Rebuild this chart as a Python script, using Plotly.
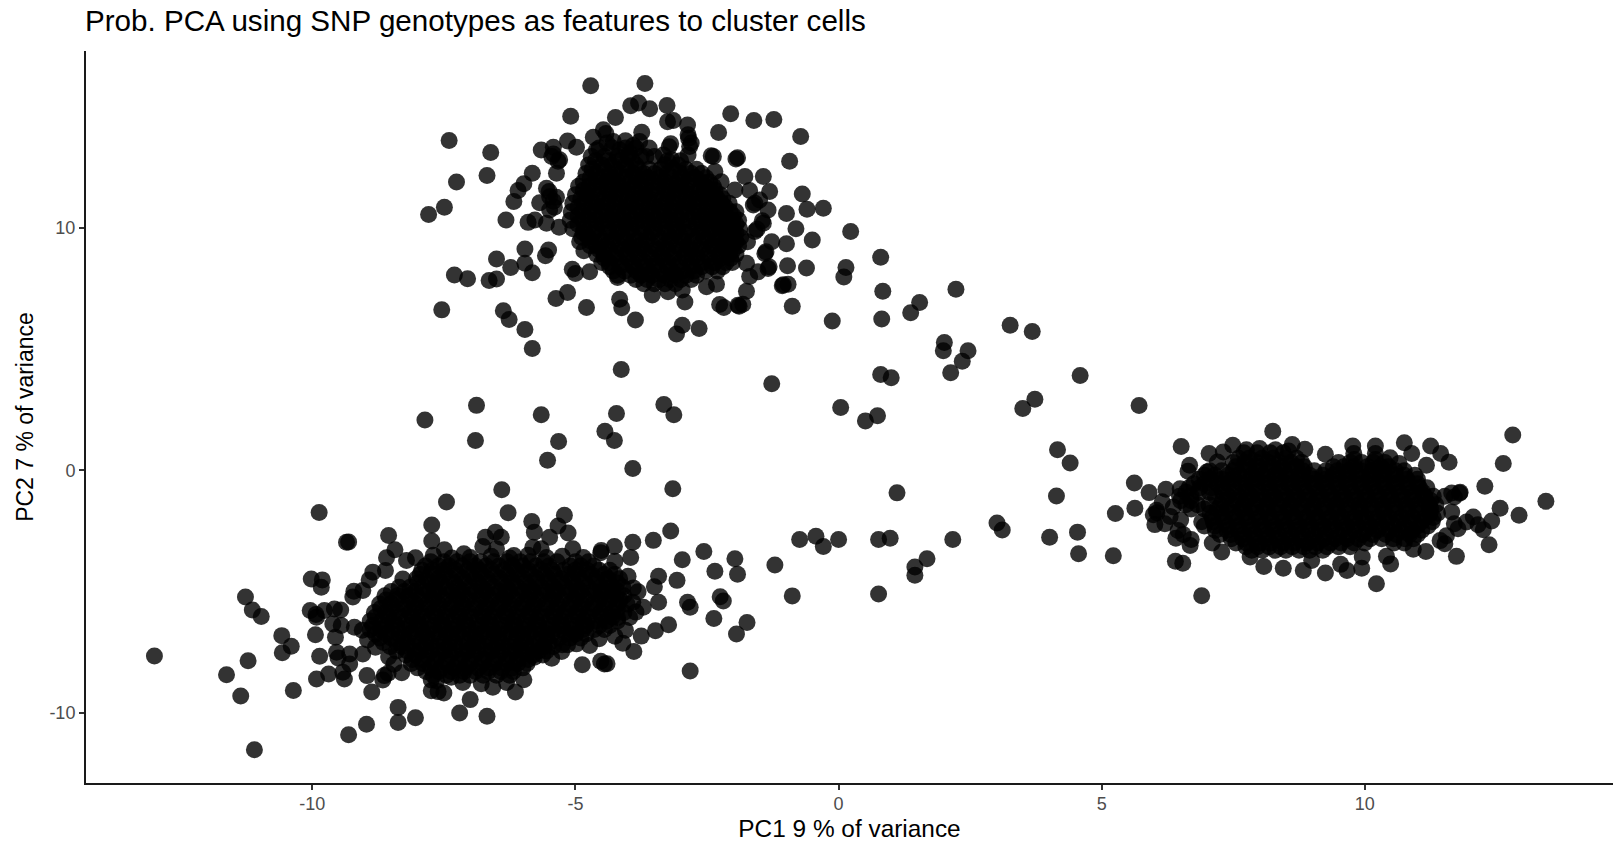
import plotly.graph_objects as go

TITLE = "Prob. PCA using SNP genotypes as features to cluster cells"
X_LABEL = "PC1 9 % of variance"
Y_LABEL = "PC2 7 % of variance"
X_TICKS = [-10, -5, 0, 5, 10]
X_TICK_TEXT = ["-10", "-5", "0", "5", "10"]
Y_TICKS = [-10, 0, 10]
Y_TICK_TEXT = ["-10", "0", "10"]

# Individually visible points as (PC1, PC2)
upper_edge = [
    (-4.71,15.87),(-3.68,15.96),(-3.95,15.04),(-3.80,15.15),(-3.59,14.92),(-3.26,15.05),(-5.09,14.61),(-4.24,14.56),
    (-3.14,14.43),(-2.87,14.25),(-2.05,14.71),(-1.61,14.43),(-1.23,14.47),(-2.28,13.94),(-0.72,13.77),(-7.40,13.61),
    (-6.61,13.11),(-3.74,13.95),(-2.86,13.84),(-2.83,13.36),(-3.19,13.47),(-4.47,14.05),(-4.66,13.74),(-5.15,13.59),
    (-0.93,12.75),(-6.68,12.16),(-7.26,11.90),(-5.82,12.26),(-5.98,11.82),(-6.09,11.54),(-6.17,11.09),(-7.49,10.85),
    (-7.79,10.55),(-6.32,10.33),(-5.90,10.23),(-0.69,11.40),(-0.60,10.77),(-0.29,10.81),(-0.99,10.60),(-1.31,11.50),
    (-1.43,12.12),(-0.81,9.97),(-0.50,9.50),(-0.99,9.35),(-1.27,9.43),(-1.38,9.02),(-0.97,8.44),
    (-0.61,8.35),(-1.34,8.33),(-0.96,7.68),(-1.07,7.62),(-0.88,6.77),
    (-1.75,7.39),(-1.89,6.77),(-1.91,6.81),(-2.26,6.84),(-2.18,6.72),(-2.65,5.85),(-2.97,5.99),(-3.08,5.62),
    (-2.92,6.94),(-3.86,6.20),(-4.16,7.06),(-4.12,6.71),(-4.79,6.72),(-5.15,7.34),(-5.37,7.09),(-5.82,8.15),
    (-5.96,8.54),(-6.23,8.37),(-6.50,8.72),(-5.96,9.13),(-5.51,9.09),(-5.57,8.85),(-6.50,7.89),(-6.64,7.83),
    (-7.05,7.90),(-7.30,8.06),(-7.54,6.62),(-6.37,6.58),(-6.26,6.22),(-5.96,5.81),(-5.82,5.03),(-5.06,8.30),
    (-5.00,8.12),(-4.73,8.19),(-4.20,7.96),(-1.75,8.54),(-1.69,8.00),(-1.53,8.19),(-2.51,7.57),(-2.32,7.68),
    (-3.24,7.37),(-2.97,7.44),(-3.54,7.23),(-5.65,13.22),(-5.42,13.33),(-4.98,13.33),(-5.30,12.81),(-5.45,12.95),
    (-5.36,12.26),(-5.55,11.64),(-5.49,11.29),(-5.36,11.27),(-5.68,11.04),(-5.49,10.74),(-5.77,10.33),(-5.55,10.19),
    (-5.31,10.03),(-4.92,9.43),(-4.84,9.06),(-2.38,12.95),(-1.95,12.84),(-2.35,12.33),(-2.23,11.91),(-1.78,12.12),
    (-1.97,11.57),(-1.69,11.54),(-1.59,11.02),(-1.34,10.74),(-1.43,10.19),(-1.59,9.85),(-1.73,9.43),(-3.33,13.01),
    (-3.66,12.95),(-3.17,12.81),(-2.86,13.01),(-4.28,13.57),(-3.78,13.57),(-4.16,13.22),(-4.60,13.22),(-3.97,13.08),
    (-5.42,13.05),(-5.33,12.75),(-5.50,11.50),(-5.42,11.10),(-5.40,10.85),(-2.42,12.98),(-1.92,12.90),(-1.62,10.95),
    (-1.50,11.15),(-1.45,10.30),(-1.55,9.95),(-1.40,8.95),(-1.32,8.40),(-1.82,6.85),(-1.05,7.66),(-3.25,14.38),
    (-2.85,13.70),(-2.80,13.50),(-3.22,13.35),(-4.42,13.90),(-4.05,13.60),(-3.90,13.40),(-4.40,13.50),
]
lower_edge = [
    (-6.40,-0.80),(-7.45,-1.31),(-6.28,-1.75),(-9.87,-1.74),(-7.73,-2.26),(-5.83,-2.11),(-5.21,-1.85),(-5.33,-2.30),
    (-5.78,-2.55),(-5.14,-2.59),(-5.49,-2.76),(-6.52,-2.55),(-6.71,-2.76),(-6.41,-2.76),(-9.31,-2.96),(-9.35,-2.97),
    (-8.55,-2.69),(-7.73,-2.92),(-6.76,-3.14),(-6.50,-3.24),(-7.12,-3.44),(-7.49,-3.28),(-5.81,-3.17),(-5.65,-3.24),
    (-6.17,-3.51),(-5.05,-3.24),(-8.43,-3.28),(-8.59,-3.61),(-8.21,-3.72),(-8.04,-3.61),(-4.51,-3.31),(-8.61,-4.13),
    (-8.85,-4.20),(-8.92,-4.52),(-8.28,-4.48),(-10.02,-4.48),(-9.81,-4.52),(-9.83,-4.82),(-11.27,-5.23),(-11.14,-5.76),
    (-10.97,-6.03),(-9.21,-4.99),(-9.23,-5.23),(-9.04,-4.96),(-10.04,-5.78),(-9.77,-5.78),(-9.93,-5.95),(-9.92,-6.06),
    (-9.58,-5.72),(-9.46,-5.76),(-9.61,-6.34),(-9.45,-6.40),(-9.20,-6.47),(-9.94,-6.78),(-9.56,-6.89),(-10.58,-6.82),
    (-10.40,-7.26),(-10.57,-7.53),(-9.86,-7.67),(-9.54,-7.51),(-9.51,-7.74),(-9.29,-7.58),(-9.04,-7.58),(-13.00,-7.66),
    (-11.22,-7.86),(-11.63,-8.43),(-11.36,-9.31),(-10.36,-9.08),(-9.92,-8.61),(-9.69,-8.40),(-9.39,-8.61),(-9.42,-8.33),
    (-9.29,-7.99),(-8.96,-8.47),(-8.56,-8.37),(-8.63,-8.47),(-8.66,-8.65),(-8.87,-9.15),(-8.37,-9.78),(-8.04,-10.21),
    (-8.37,-10.40),(-8.97,-10.48),(-9.31,-10.91),(-11.10,-11.53),(-7.20,-10.01),(-6.68,-10.15),(-7.00,-9.46),(-6.14,-9.15),
    (-5.98,-8.64),(-6.57,-8.95),(-6.79,-8.81),(-6.31,-8.75),(-7.74,-9.09),(-7.61,-9.13),(-7.50,-9.19),(-7.74,-8.65),
    (-7.64,-8.68),(-7.14,-8.75),(-7.36,-8.54),(-5.78,-7.71),(-5.26,-7.47),(-4.98,-7.16),(-4.73,-7.23),(-4.87,-8.02),
    (-4.52,-7.88),(-4.45,-7.99),(-2.82,-8.28),(-1.74,-6.28),(-1.94,-6.75),(-2.37,-6.11),(-2.25,-5.22),(-2.19,-5.39),
    (-2.82,-5.65),(-2.87,-5.44),(-1.92,-4.29),(-1.97,-3.65),(-2.35,-4.16),(-2.56,-3.35),(-2.97,-3.69),(-3.07,-4.54),
    (-3.19,-2.50),(-3.52,-2.89),(-3.91,-2.97),(-4.26,-3.14),(-4.52,-3.40),(-3.42,-4.37),(-3.50,-4.80),(-3.81,-5.01),
    (-3.23,-6.37),(-3.48,-6.62),(-3.75,-6.84),(-3.89,-7.47),(-4.10,-7.13),(-4.40,-7.98),(-3.97,-6.07),(-4.20,-6.07),
    (-3.91,-5.44),(-4.30,-5.01),(-3.71,-5.65),(-4.00,-4.37),(-3.42,-5.44),(-4.25,-3.75),(-3.95,-3.60),
    (-7.70,-3.50),(-7.35,-3.62),(-7.00,-3.60),(-6.60,-3.55),(-6.25,-3.62),(-5.90,-3.50),(-5.55,-3.60),(-5.25,-3.55),
    (-4.85,-3.60),(-3.90,-4.85),(-3.85,-5.85),(-4.05,-6.60),(-4.25,-6.85),(-4.55,-6.95),(-5.15,-7.20),(-5.45,-7.75),
    (-5.25,-7.20),(-8.80,-7.30),(-8.95,-7.00),(-9.05,-6.60),(-8.55,-7.70),(-8.45,-8.00),(-8.30,-8.35),
]
right_edge = [
    (5.71,2.67),(8.25,1.61),(12.81,1.46),(6.51,0.98),(7.49,1.03),(7.04,0.69),(7.31,0.76),(7.20,0.34),
    (6.67,0.21),(6.64,-0.04),(7.00,-0.07),(8.62,1.07),(8.86,0.87),(9.25,0.66),(9.77,1.00),(9.79,0.69),
    (10.20,1.00),(10.20,0.69),(10.75,1.14),(10.89,0.69),(11.25,1.00),(11.44,0.69),(11.60,0.33),(11.17,0.21),
    (10.48,0.52),(10.65,0.28),(12.63,0.28),(12.28,-0.66),(13.44,-1.28),(12.57,-1.56),(12.93,-1.85),(11.81,-0.90),
    (11.65,-0.94),(11.52,-1.07),(12.06,-1.93),(12.41,-2.09),(12.25,-2.45),(12.36,-3.07),(11.74,-3.55),(11.93,-2.13),
    (11.65,-1.72),(11.77,-2.41),(11.52,-3.03),(11.43,-2.90),(11.16,-3.35),(10.92,-3.26),(10.49,-3.86),(10.41,-3.55),
    (10.22,-4.68),(9.94,-4.04),(9.95,-3.58),(9.66,-4.13),(9.54,-3.88),(9.25,-4.24),(8.83,-4.13),(8.99,-3.72),
    (8.45,-4.04),(8.08,-3.97),(7.82,-3.58),(7.28,-3.37),(6.68,-3.10),(6.41,-2.80),(6.45,-2.48),(6.40,-3.75),
    (6.54,-3.83),(6.90,-5.17),(6.01,-2.24),(5.98,-1.83),(6.04,-1.65),(5.63,-1.56),(5.62,-0.52),(5.90,-0.92),
    (6.22,-0.78),(6.36,-1.51),(6.49,-0.76),(6.30,-1.90),(6.15,-1.30),(6.50,-2.05),
    (7.75,0.85),(8.00,0.90),(8.30,0.85),(8.55,0.80),(9.80,0.45),(10.20,0.45),(6.05,-1.75),(6.20,-2.20),
    (6.55,-2.65),(6.70,-2.85),(7.10,-3.00),(11.55,-2.70),(11.70,-2.20),(12.15,-2.25),(11.70,-1.10),(11.80,-0.95),
]
between = [
    (-4.13,4.16),(-6.88,2.68),(-7.86,2.08),(-6.90,1.23),(-5.65,2.29),(-4.22,2.34),(-3.32,2.72),(-3.13,2.29),
    (-4.44,1.61),(-4.26,1.23),(-5.32,1.19),(-5.53,0.42),(-3.91,0.08),(-3.15,-0.76),(-1.27,3.57),(0.04,2.59),
    (0.51,2.04),(0.74,2.25),(0.80,3.95),(1.00,3.82),(-0.12,6.16),(0.82,6.24),(1.37,6.50),(1.54,6.92),
    (0.84,7.39),(2.23,7.47),(0.80,8.79),(0.23,9.85),(0.14,8.37),(0.10,7.98),(2.01,5.27),(1.99,4.93),
    (2.46,4.93),(2.35,4.50),(2.13,4.03),(3.26,5.99),(3.68,5.73),(4.59,3.91),(3.73,2.93),(3.50,2.55),
    (4.16,0.85),(4.40,0.30),(4.14,-1.06),(1.11,-0.93),(3.01,-2.17),(3.11,-2.46),(2.17,-2.85),(4.01,-2.76),
    (4.54,-2.55),(4.56,-3.44),(5.22,-3.52),(5.26,-1.78),(0.76,-2.85),(0.98,-2.80),(0.00,-2.85),(-0.29,-3.14),
    (-0.43,-2.72),(-0.74,-2.85),(-0.88,-5.18),(-1.21,-3.91),(0.76,-5.10),(1.45,-4.33),(1.45,-3.99),(1.68,-3.65),
]

# Solid black cores: individual points cannot be told apart there, so these are
# estimates that follow each silhouette, given as (PC2, [PC1, ...]) rows
upper_core = [
    (13.3,[-4.55,-4.3,-4.05,-3.85,-3.6]),
    (12.95,[-4.7,-4.45,-4.2,-4.0,-3.75,-3.5]),
    (12.77,[-4.62,-4.38,-4.15,-3.92,-3.25,-3.0]),
    (12.6,[-4.75,-4.5,-4.3,-4.05,-3.85,-3.3,-3.05]),
    (12.42,[-4.68,-4.46,-4.24,-4.02,-3.8,-3.6,-3.38,-3.14,-2.9,-2.7]),
    (12.25,[-4.8,-4.6,-4.35,-4.15,-3.9,-3.7,-3.5,-3.25,-3.0,-2.8,-2.6]),
    (12.07,[-4.72,-4.5,-4.28,-4.06,-3.84,-3.62,-3.4,-3.18,-2.96,-2.72,-2.52]),
    (11.9,[-4.85,-4.6,-4.4,-4.2,-3.95,-3.75,-3.5,-3.3,-3.05,-2.85,-2.6,-2.45]),
    (11.72,[-4.94,-4.74,-4.52,-4.3,-4.1,-3.88,-3.66,-3.42,-3.2,-3.0,-2.76,-2.54,-2.38]),
    (11.55,[-4.85,-4.65,-4.4,-4.2,-4.0,-3.75,-3.55,-3.3,-3.1,-2.9,-2.65,-2.45,-2.35]),
    (11.37,[-5.0,-4.78,-4.56,-4.34,-4.12,-3.9,-3.68,-3.46,-3.24,-3.02,-2.8,-2.58,-2.38,-2.25]),
    (11.2,[-4.9,-4.7,-4.45,-4.25,-4.0,-3.8,-3.6,-3.35,-3.15,-2.9,-2.7,-2.5,-2.3,-2.2]),
    (11.02,[-5.05,-4.82,-4.6,-4.38,-4.16,-3.94,-3.72,-3.5,-3.28,-3.06,-2.84,-2.62,-2.4,-2.22,-2.08]),
    (10.85,[-4.95,-4.7,-4.5,-4.25,-4.05,-3.85,-3.6,-3.4,-3.15,-2.95,-2.75,-2.5,-2.3,-2.15]),
    (10.67,[-5.08,-4.86,-4.64,-4.42,-4.2,-3.98,-3.76,-3.54,-3.32,-3.1,-2.88,-2.66,-2.44,-2.24,-2.06,-1.95]),
    (10.5,[-4.95,-4.75,-4.5,-4.3,-4.1,-3.85,-3.65,-3.4,-3.2,-3.0,-2.75,-2.55,-2.35,-2.15,-2.0]),
    (10.32,[-5.1,-4.86,-4.62,-4.4,-4.18,-3.96,-3.74,-3.52,-3.3,-3.08,-2.86,-2.64,-2.42,-2.2,-2.02,-1.9]),
    (10.15,[-4.95,-4.7,-4.5,-4.25,-4.05,-3.85,-3.6,-3.4,-3.15,-2.95,-2.7,-2.5,-2.3,-2.1,-1.95]),
    (9.97,[-5.05,-4.84,-4.6,-4.38,-4.14,-3.94,-3.72,-3.5,-3.28,-3.06,-2.82,-2.6,-2.38,-2.18,-2.0,-1.88]),
    (9.8,[-4.85,-4.65,-4.4,-4.2,-4.0,-3.75,-3.55,-3.3,-3.1,-2.9,-2.65,-2.45,-2.25,-2.05,-1.95]),
    (9.62,[-4.88,-4.76,-4.54,-4.3,-4.1,-3.88,-3.64,-3.42,-3.2,-3.0,-2.76,-2.56,-2.34,-2.14,-1.98,-1.86]),
    (9.45,[-4.7,-4.5,-4.3,-4.05,-3.85,-3.65,-3.4,-3.2,-2.95,-2.75,-2.5,-2.3,-2.1,-1.95]),
    (9.27,[-4.72,-4.6,-4.4,-4.18,-3.96,-3.76,-3.54,-3.3,-3.08,-2.86,-2.62,-2.4,-2.2,-2.02,-1.9]),
    (9.1,[-4.55,-4.35,-4.1,-3.9,-3.7,-3.45,-3.25,-3.0,-2.8,-2.6,-2.35,-2.15,-2.0]),
    (8.92,[-4.6,-4.46,-4.24,-4.02,-3.8,-3.58,-3.36,-3.14,-2.9,-2.7,-2.48,-2.26,-2.08,-1.95]),
    (8.75,[-4.45,-4.25,-4.0,-3.8,-3.55,-3.35,-3.15,-2.9,-2.7,-2.45,-2.25,-2.05]),
    (8.57,[-4.5,-4.36,-4.14,-3.92,-3.68,-3.46,-3.24,-3.02,-2.8,-2.58,-2.36,-2.14,-2.02]),
    (8.4,[-4.35,-4.15,-3.9,-3.7,-3.5,-3.25,-3.05,-2.8,-2.6,-2.4,-2.2]),
    (8.22,[-4.28,-4.06,-3.84,-3.62,-3.4,-3.18,-2.96,-2.74,-2.52,-2.3]),
    (8.05,[-4.2,-3.95,-3.75,-3.55,-3.3,-3.1,-2.9,-2.7]),
    (7.87,[-3.85,-3.64,-3.42,-3.2,-3.0,-2.8]),
    (7.7,[-3.7,-3.5,-3.3,-3.1]),
]
lower_core = [
    (-3.77,[-7.75,-7.5,-7.25,-7.0,-6.8,-6.55,-6.3,-6.05,-5.85,-5.6,-5.35,-5.0,-4.75]),
    (-3.95,[-7.85,-7.6,-7.4,-7.15,-6.9,-6.7,-6.45,-6.2,-6.0,-5.75,-5.5,-5.1,-4.9,-4.65]),
    (-4.12,[-7.92,-7.72,-7.5,-7.28,-7.04,-6.82,-6.6,-6.36,-6.12,-5.9,-5.66,-5.44,-5.22,-5.0,-4.78,-4.55,-4.35]),
    (-4.3,[-7.95,-7.7,-7.5,-7.25,-7.0,-6.8,-6.55,-6.3,-6.1,-5.85,-5.6,-5.4,-5.15,-4.95,-4.7,-4.45,-4.25]),
    (-4.47,[-8.02,-7.82,-7.6,-7.38,-7.14,-6.92,-6.68,-6.44,-6.22,-5.98,-5.74,-5.52,-5.28,-5.06,-4.84,-4.6,-4.38,-4.16]),
    (-4.65,[-8.0,-7.75,-7.55,-7.3,-7.1,-6.85,-6.65,-6.4,-6.2,-5.95,-5.75,-5.5,-5.3,-5.05,-4.85,-4.6,-4.4,-4.2]),
    (-4.82,[-8.35,-8.14,-7.9,-7.68,-7.46,-7.24,-7.0,-6.78,-6.56,-6.32,-6.1,-5.88,-5.66,-5.42,-5.2,-4.98,-4.76,-4.52,-4.3,-4.1]),
    (-5.0,[-8.5,-8.25,-8.05,-7.8,-7.6,-7.35,-7.15,-6.9,-6.7,-6.45,-6.25,-6.0,-5.8,-5.55,-5.35,-5.1,-4.9,-4.65,-4.45,-4.2]),
    (-5.17,[-8.62,-8.38,-8.16,-7.92,-7.7,-7.46,-7.24,-7.02,-6.78,-6.56,-6.34,-6.1,-5.88,-5.66,-5.42,-5.2,-4.98,-4.76,-4.52,-4.3,-4.08]),
    (-5.35,[-8.6,-8.4,-8.15,-7.95,-7.7,-7.5,-7.25,-7.05,-6.8,-6.6,-6.35,-6.15,-5.9,-5.7,-5.45,-5.25,-5.0,-4.8,-4.55,-4.35,-4.15]),
    (-5.52,[-8.72,-8.5,-8.28,-8.04,-7.82,-7.6,-7.36,-7.14,-6.92,-6.68,-6.46,-6.24,-6.0,-5.78,-5.56,-5.34,-5.1,-4.88,-4.66,-4.44,-4.2,-4.02]),
    (-5.7,[-8.7,-8.5,-8.25,-8.05,-7.8,-7.6,-7.35,-7.15,-6.9,-6.7,-6.45,-6.25,-6.0,-5.8,-5.55,-5.35,-5.1,-4.9,-4.65,-4.45,-4.2]),
    (-5.87,[-8.82,-8.6,-8.38,-8.14,-7.92,-7.7,-7.46,-7.24,-7.02,-6.78,-6.56,-6.34,-6.1,-5.88,-5.66,-5.42,-5.2,-4.98,-4.76,-4.52,-4.3,-4.08]),
    (-6.05,[-8.8,-8.55,-8.35,-8.1,-7.9,-7.65,-7.45,-7.2,-7.0,-6.75,-6.55,-6.3,-6.1,-5.85,-5.65,-5.4,-5.2,-4.95,-4.75,-4.5,-4.3]),
    (-6.22,[-8.9,-8.68,-8.46,-8.22,-8.0,-7.78,-7.54,-7.32,-7.1,-6.86,-6.64,-6.42,-6.18,-5.96,-5.74,-5.5,-5.28,-5.06,-4.84,-4.62,-4.4,-4.2]),
    (-6.4,[-8.85,-8.6,-8.4,-8.15,-7.95,-7.7,-7.5,-7.25,-7.05,-6.8,-6.6,-6.35,-6.15,-5.9,-5.7,-5.45,-5.25,-5.0,-4.8,-4.55,-4.35]),
    (-6.57,[-8.9,-8.7,-8.48,-8.24,-8.02,-7.8,-7.56,-7.34,-7.12,-6.88,-6.66,-6.44,-6.2,-5.98,-5.76,-5.52,-5.3,-5.08,-4.86,-4.64,-4.45]),
    (-6.75,[-8.8,-8.6,-8.35,-8.15,-7.9,-7.7,-7.45,-7.25,-7.0,-6.8,-6.55,-6.35,-6.1,-5.9,-5.65,-5.45,-5.2,-5.0,-4.8]),
    (-6.92,[-8.72,-8.5,-8.26,-8.04,-7.82,-7.58,-7.36,-7.14,-6.9,-6.68,-6.46,-6.22,-6.0,-5.78,-5.54,-5.32,-5.1,-4.9]),
    (-7.1,[-8.65,-8.4,-8.2,-7.95,-7.75,-7.5,-7.3,-7.05,-6.85,-6.6,-6.4,-6.15,-5.95,-5.7,-5.5]),
    (-7.27,[-8.52,-8.3,-8.08,-7.84,-7.62,-7.4,-7.16,-6.94,-6.72,-6.48,-6.26,-6.04,-5.82,-5.6,-5.42]),
    (-7.45,[-8.4,-8.2,-7.95,-7.75,-7.5,-7.3,-7.05,-6.85,-6.6,-6.4,-6.15,-5.95,-5.7,-5.55]),
    (-7.62,[-8.22,-8.04,-7.82,-7.6,-7.38,-7.14,-6.92,-6.7,-6.46,-6.24,-6.02,-5.8,-5.62]),
    (-7.8,[-8.1,-7.9,-7.65,-7.45,-7.2,-7.0,-6.75,-6.55,-6.3,-6.1,-5.9]),
    (-7.97,[-8.12,-7.9,-7.68,-7.44,-7.22,-7.0,-6.76,-6.54,-6.32,-6.1,-5.92]),
    (-8.15,[-8.0,-7.75,-7.55,-7.3,-7.1,-6.85,-6.65,-6.4,-6.2,-6.0]),
    (-8.3,[-7.84,-7.6,-7.36,-7.12,-6.9,-6.66,-6.42,-6.18]),
    (-8.45,[-7.7,-7.45,-7.2,-7.0,-6.75,-6.5,-6.25]),
]
right_core = [
    (0.72,[7.7,7.95,8.2,8.45]),
    (0.5,[7.6,7.8,8.05,8.25,8.5,8.7]),
    (0.32,[7.5,7.72,7.94,8.16,8.38,8.6,8.8,9.5,9.72,9.94,10.16,10.38]),
    (0.15,[7.55,7.8,8.0,8.25,8.45,8.7,8.85,9.4,9.6,9.8,10.05,10.3,10.45]),
    (-0.02,[7.05,7.28,7.5,7.72,7.94,8.16,8.38,8.6,8.82,9.04,9.26,9.48,9.7,9.92,10.14,10.36,10.58,10.75]),
    (-0.2,[6.95,7.15,7.4,7.6,7.85,8.05,8.3,8.5,8.75,8.95,9.2,9.4,9.65,9.85,10.1,10.3,10.55,10.75,10.95]),
    (-0.37,[6.85,7.06,7.28,7.5,7.72,7.94,8.16,8.38,8.6,8.82,9.04,9.26,9.48,9.7,9.92,10.14,10.36,10.58,10.8,11.0]),
    (-0.55,[6.75,6.95,7.2,7.4,7.65,7.85,8.1,8.3,8.55,8.75,9.0,9.2,9.45,9.65,9.9,10.1,10.35,10.55,10.8,11.0]),
    (-0.72,[6.66,6.86,7.08,7.3,7.52,7.74,7.96,8.18,8.4,8.62,8.84,9.06,9.28,9.5,9.72,9.94,10.16,10.38,10.6,10.82,11.04,11.18]),
    (-0.9,[6.6,6.85,7.05,7.3,7.5,7.75,7.95,8.2,8.4,8.65,8.85,9.1,9.3,9.55,9.75,10.0,10.2,10.45,10.65,10.9,11.1]),
    (-1.07,[6.48,6.7,7.16,7.4,7.62,7.84,8.06,8.28,8.5,8.72,8.94,9.16,9.38,9.6,9.82,10.04,10.26,10.48,10.7,10.92,11.14,11.3]),
    (-1.25,[6.5,6.7,7.3,7.55,7.75,8.0,8.2,8.45,8.65,8.9,9.1,9.35,9.55,9.8,10.0,10.25,10.45,10.7,10.9,11.15,11.25]),
    (-1.42,[6.6,6.82,7.04,7.26,7.48,7.7,7.92,8.14,8.36,8.58,8.8,9.02,9.24,9.46,9.68,9.9,10.12,10.34,10.56,10.78,11.0,11.22,11.35]),
    (-1.6,[6.7,6.95,7.2,7.4,7.65,7.85,8.1,8.3,8.55,8.75,9.0,9.2,9.45,9.65,9.9,10.1,10.35,10.55,10.8,11.0,11.25]),
    (-1.77,[7.06,7.28,7.5,7.72,7.94,8.16,8.38,8.6,8.82,9.04,9.26,9.48,9.7,9.92,10.14,10.36,10.58,10.8,11.02,11.24,11.38]),
    (-1.95,[7.1,7.3,7.55,7.75,8.0,8.2,8.45,8.65,8.9,9.1,9.35,9.55,9.8,10.0,10.25,10.45,10.7,10.9,11.15,11.3]),
    (-2.12,[6.9,7.12,7.34,7.56,7.78,8.0,8.22,8.44,8.66,8.88,9.1,9.32,9.54,9.76,9.98,10.2,10.42,10.64,10.86,11.08,11.28]),
    (-2.3,[6.95,7.15,7.4,7.6,7.85,8.05,8.3,8.5,8.75,8.95,9.2,9.4,9.65,9.85,10.1,10.3,10.55,10.75,11.0,11.2]),
    (-2.47,[7.16,7.38,7.6,7.82,8.04,8.26,8.48,8.7,8.92,9.14,9.36,9.58,9.8,10.02,10.24,10.46,10.68,10.9,11.08]),
    (-2.65,[7.25,7.45,7.7,7.9,8.15,8.35,8.6,8.8,9.05,9.25,9.5,9.7,9.95,10.15,10.4,10.6,10.85,11.0]),
    (-2.82,[7.46,7.68,7.9,8.12,8.34,8.56,8.78,9.0,9.22,9.44,9.66,9.88,10.1,10.32,10.54,10.76,10.92]),
    (-3.0,[7.55,7.75,8.0,8.2,8.45,8.65,8.9,9.1,9.35,9.55,9.8,10.0,10.55,10.75]),
    (-3.15,[7.74,7.96,8.18,8.4,8.62,8.84,9.06,9.28,9.5,9.72]),
    (-3.3,[7.85,8.05,8.3,8.5,8.75,8.95,9.2]),
]

pc1, pc2 = [], []
for group in (upper_edge, lower_edge, right_edge, between):
    for a, b in group:
        pc1.append(a)
        pc2.append(b)
for rows in (upper_core, lower_core, right_core):
    for b, xs in rows:
        for a in xs:
            pc1.append(a)
            pc2.append(b)

fig = go.Figure(go.Scatter(
    x=pc1, y=pc2, mode="markers",
    marker=dict(size=17, color="black", opacity=0.8, line=dict(width=0)),
    hoverinfo="skip",
))

FONT = "Liberation Sans, Arial, sans-serif"
axis_common = dict(
    showgrid=False, zeroline=False, showline=True, linecolor="#1a1a1a", linewidth=2,
    ticks="outside", ticklen=5, tickwidth=2, tickcolor="#333333",
    tickfont=dict(family=FONT, size=18, color="#4D4D4D"), automargin=False,
)
fig.update_layout(
    width=1613, height=842, autosize=False,
    margin=dict(l=86, r=0, t=51, b=59),
    paper_bgcolor="white", plot_bgcolor="white", showlegend=False,
    title=dict(text=TITLE, x=85 / 1613, xanchor="left", xref="container",
               y=1 - 21 / 842, yanchor="middle", yref="container",
               font=dict(family=FONT, size=29.6, color="black")),
    xaxis=dict(range=[-14.30, 14.715], tickmode="array", tickvals=X_TICKS, ticktext=X_TICK_TEXT,
               ticklabelstandoff=-2,
               title=dict(text=X_LABEL, standoff=9, font=dict(family=FONT, size=24.4, color="black")),
               **axis_common),
    yaxis=dict(range=[-12.9, 17.3], tickmode="array", tickvals=Y_TICKS, ticktext=Y_TICK_TEXT,
               title=dict(text=Y_LABEL, standoff=9, font=dict(family=FONT, size=23, color="black")),
               **axis_common),
)
fig.write_html("out.html", post_script="document.body.style.margin='0';document.body.style.overflow='hidden';",
               config={"displayModeBar": False})
